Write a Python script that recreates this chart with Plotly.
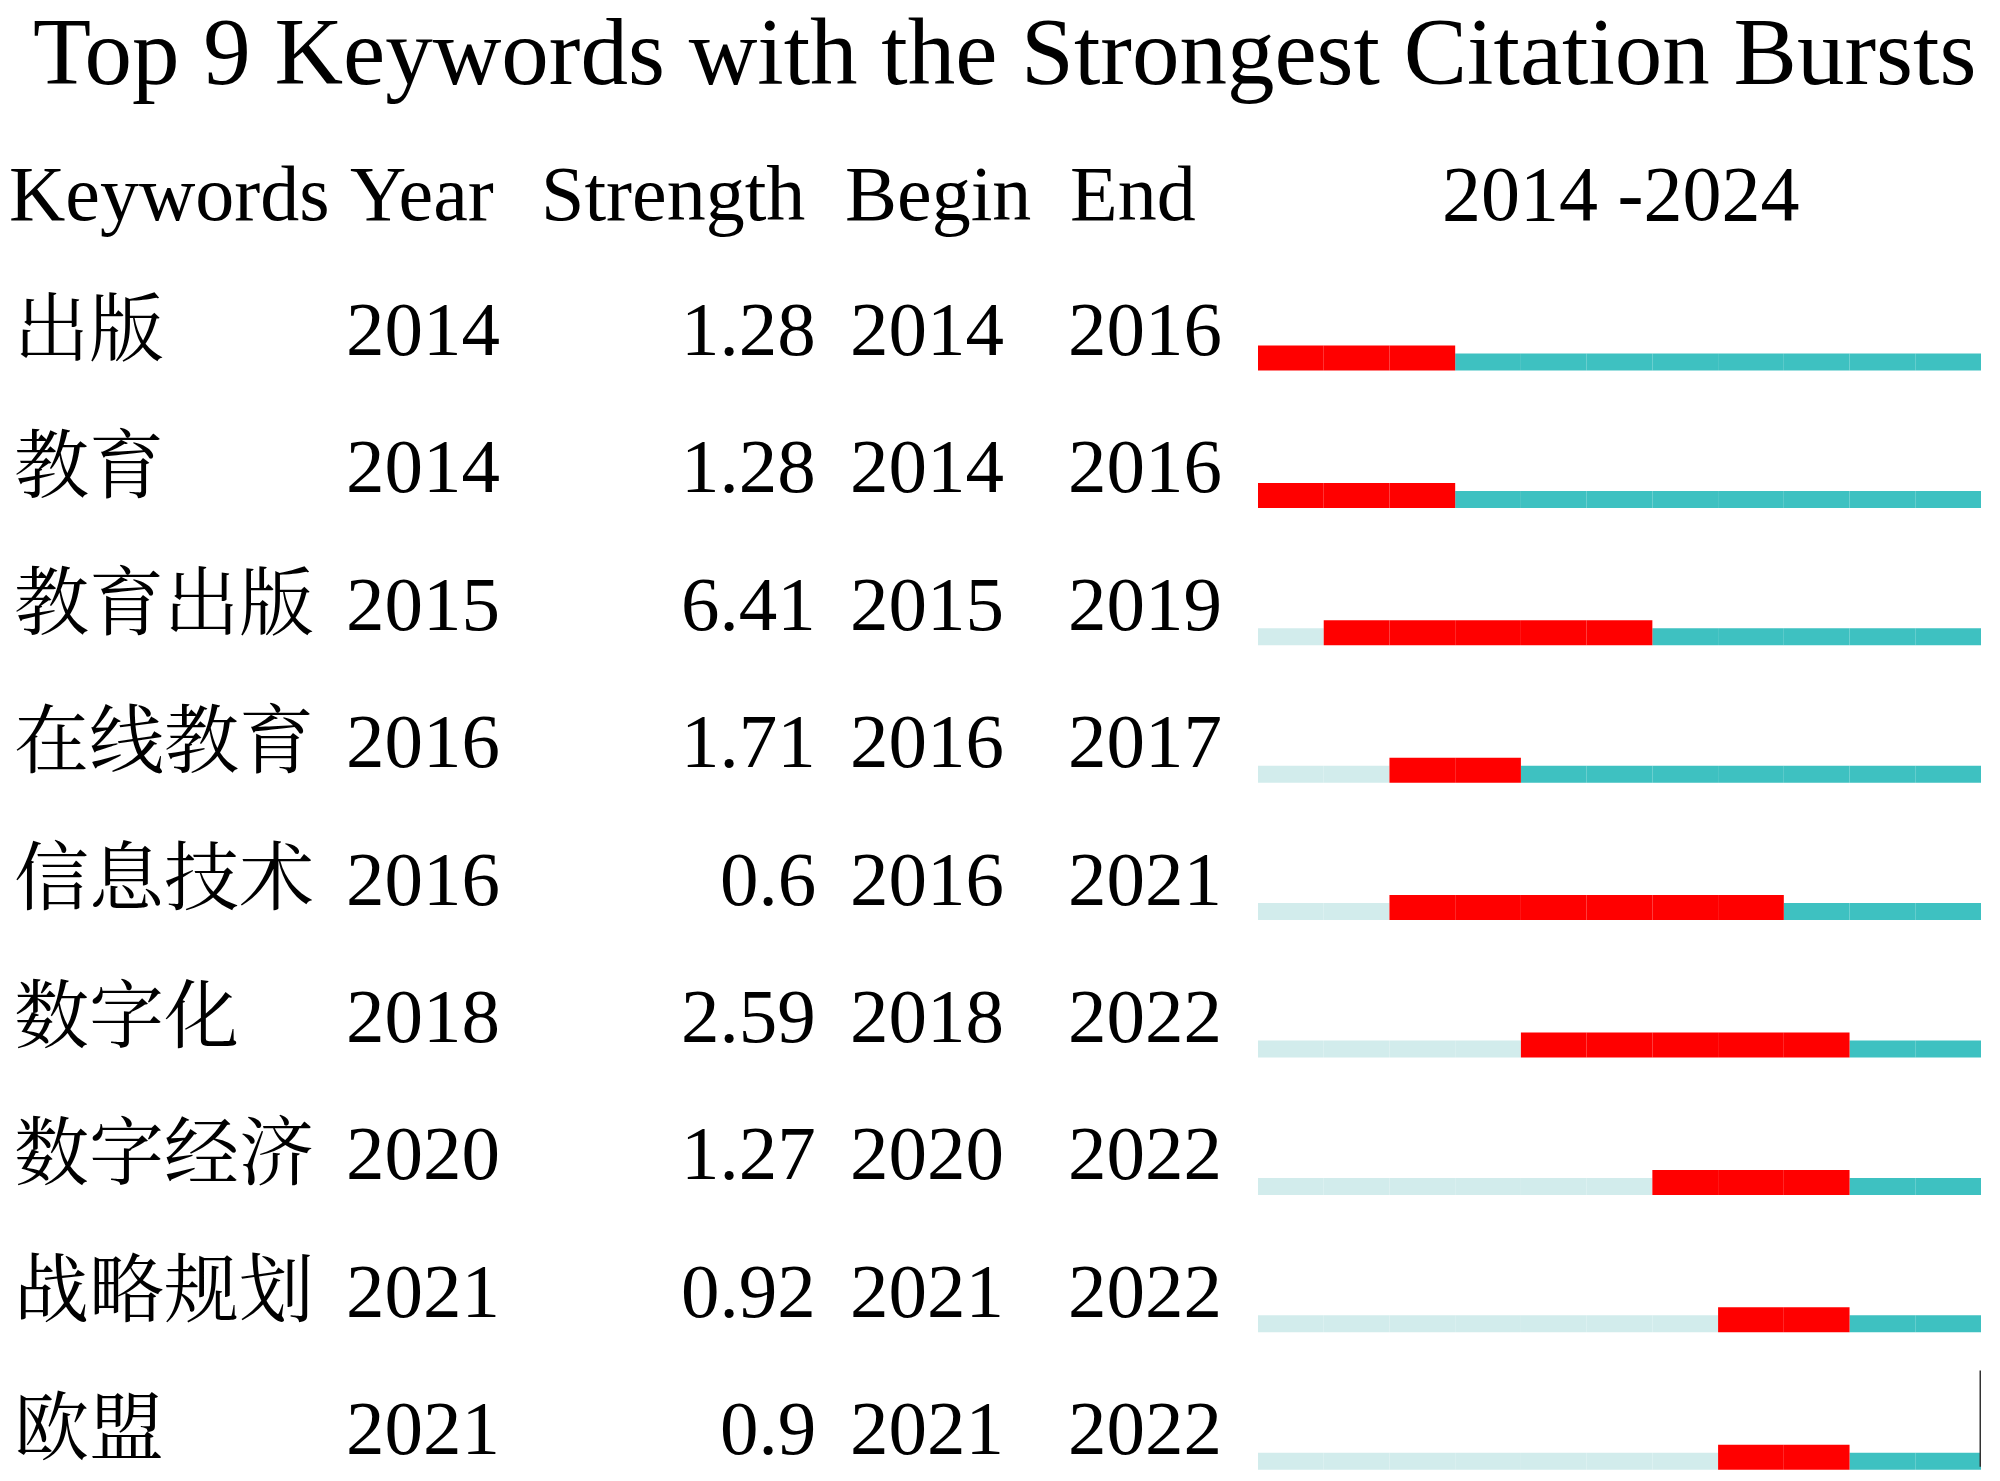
import plotly.graph_objects as go

# ---------------- data ----------------
title_text = "Top 9 Keywords with the Strongest Citation Bursts"
headers = ["Keywords", "Year", "Strength", "Begin", "End"]
keywords = ["出版", "教育", "教育出版", "在线教育", "信息技术", "数字化", "数字经济", "战略规划", "欧盟"]
years = [2014, 2014, 2015, 2016, 2016, 2018, 2020, 2021, 2021]
strength = [1.28, 1.28, 6.41, 1.71, 0.6, 2.59, 1.27, 0.92, 0.9]
begin = [2014, 2014, 2015, 2016, 2016, 2018, 2020, 2021, 2021]
end = [2016, 2016, 2019, 2017, 2021, 2022, 2022, 2022, 2022]
span_start = 2014
span_end = 2024

# ---------------- style ----------------
W, H = 2000, 1481
ROW0_PX = 329.0      # pixel y of first row text centre
ROW_PX = 137.4       # row spacing in px
FONT = "Liberation Serif, Times New Roman, Noto Serif CJK SC, Noto Sans CJK SC, serif"
RED = "#ff0000"
TEAL = "#3ec1c1"
LIGHT = "#d2ecec"

y_top = -ROW0_PX / ROW_PX
y_bot = (H - ROW0_PX) / ROW_PX

fig = go.Figure()

# thickness (row units); bars are bottom aligned
bottom = 0.302
red_w = 25.0 / ROW_PX
oth_w = 17.0 / ROW_PX

n = len(keywords)
cells = {"light": ([], [], LIGHT, oth_w), "red": ([], [], RED, red_w), "teal": ([], [], TEAL, oth_w)}
for i in range(n):
    for yr in range(span_start, span_end + 1):
        if yr < years[i]:
            k = "light"
        elif begin[i] <= yr <= end[i]:
            k = "red"
        else:
            k = "teal"
        cells[k][0].append(yr)
        cells[k][1].append(i)

for k in ["light", "teal", "red"]:
    xs, ys, col, w = cells[k]
    fig.add_trace(go.Bar(
        orientation="h",
        base=xs,
        x=[1] * len(xs),
        y=ys,
        width=w,
        offset=bottom - w,
        marker=dict(color=col, line=dict(width=0)),
        showlegend=False,
        hoverinfo="skip",
    ))

# end marker line on the last row
fig.add_shape(type="line", xref="x", yref="y",
              x0=span_end + 1, x1=span_end + 1,
              y0=n - 1 - 0.42, y1=n - 1 + 0.28,
              line=dict(color="#333333", width=3))

def ann(text, xpx, yrow, size, anchor="left"):
    fig.add_annotation(text=text, x=xpx / W, xref="paper", y=yrow, yref="y",
                       xanchor=anchor, yanchor="middle", showarrow=False,
                       font=dict(family=FONT, size=size, color="black"),
                       borderpad=0)

# title
ann(title_text, 1004, (52 - ROW0_PX) / ROW_PX, 95, "center")

# header
hy = (193 - ROW0_PX) / ROW_PX
HS = 78
ann(headers[0], 8, hy, HS)
ann(headers[1], 349, hy, HS)
ann(headers[2], 540, hy, HS)
ann(headers[3], 844, hy, HS)
ann(headers[4], 1069, hy, HS)
ann(f"{span_start} -{span_end}", 1620, hy, HS, "center")

# rows
DS = 77
for i in range(n):
    ann(keywords[i], 13, i, 75)
    ann(str(years[i]), 345, i, DS)
    ann(str(strength[i]), 817, i, DS, "right")
    ann(str(begin[i]), 849, i, DS)
    ann(str(end[i]), 1067, i, DS)

fig.update_layout(
    width=W, height=H, autosize=False,
    margin=dict(l=0, r=0, t=0, b=0),
    paper_bgcolor="white", plot_bgcolor="white",
    barmode="overlay",
    xaxis=dict(domain=[1258 / W, 1981 / W], range=[span_start, span_end + 1],
               visible=False, fixedrange=True),
    yaxis=dict(range=[y_bot, y_top], visible=False, fixedrange=True),
)

fig.write_html("out.html", config={"displayModeBar": False},
               post_script="document.body.style.margin='0';document.body.style.overflow='hidden';")
